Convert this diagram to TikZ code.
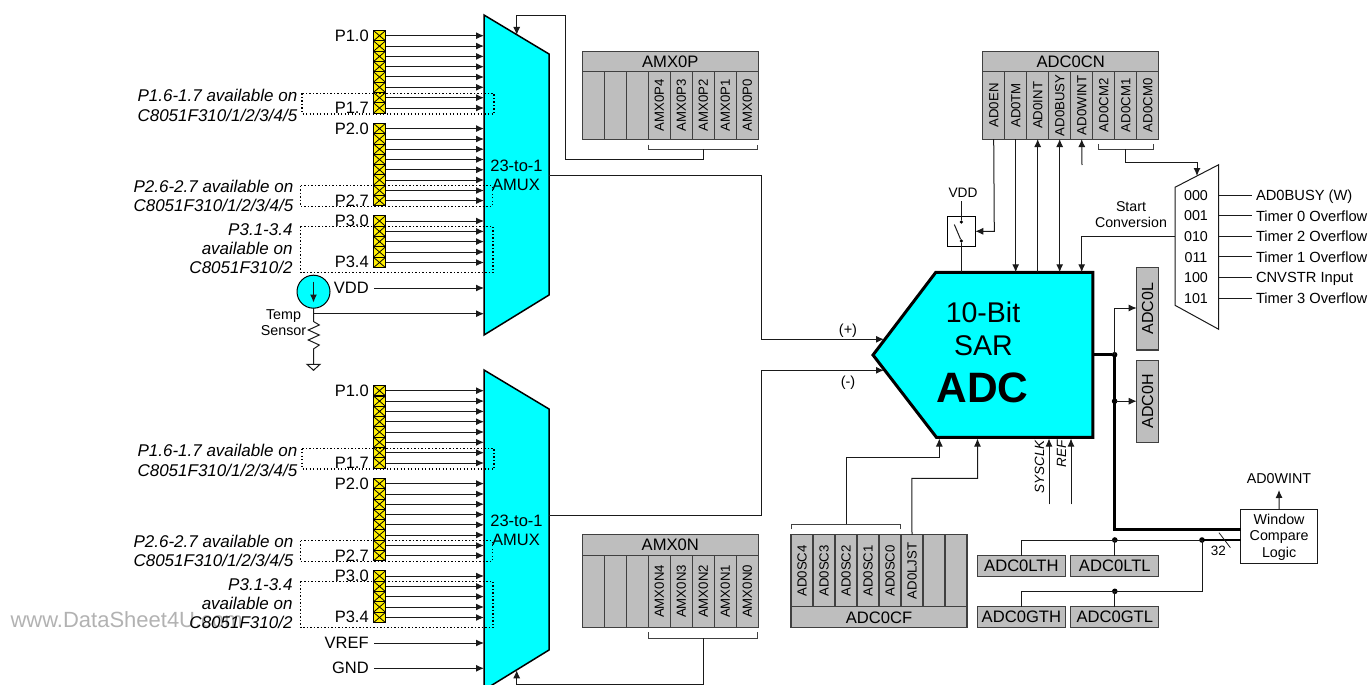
\documentclass[tikz,border=0pt]{standalone}
\usepackage{graphicx}
\usepackage{fontspec}
\setmainfont{Liberation Sans}
\usetikzlibrary{arrows.meta,calc}
\definecolor{regfill}{HTML}{BEBEBE}
\definecolor{regline}{HTML}{404040}
\definecolor{wline}{HTML}{1A1A1A}
\definecolor{pinyellow}{HTML}{FFEE00}
\definecolor{cyanfill}{HTML}{00FFFF}
\newcommand{\fs}[1]{\fontsize{#1}{#1}\selectfont}
\tikzset{
  wire/.style={draw=wline,line width=1pt},
  arr/.style={wire,-{Latex[length=8pt,width=7pt]}},
  darr/.style={wire,{Latex[length=8pt,width=7pt]}-{Latex[length=8pt,width=7pt]}},
  bus/.style={draw=black,line width=2.6pt},
  dotbox/.style={draw=black,line width=1.15pt,dash pattern=on 1.4pt off 2.1pt},
  lbl/.style={inner sep=0,outer sep=0,text depth=0pt,font=\fs{#1},text height=#1*0.72pt},
  lbl/.default=16.5,
  small/.style={lbl=14.3},
  ital/.style={lbl=17,font=\fs{17}\itshape,anchor=east},
  pinlbl/.style={lbl,anchor=east},
  pinbox/.style={draw=black,line width=.9pt,fill=pinyellow,inner sep=0,outer sep=0,
    minimum width=12pt,minimum height=10.3pt,
    path picture={\draw[line width=.8pt] (path picture bounding box.north west)--(path picture bounding box.south east)
      (path picture bounding box.north east)--(path picture bounding box.south west);}},
  regcell/.style={draw=regline,fill=regfill,line width=1.1pt,inner sep=0,outer sep=0,minimum width=22pt,font=\fs{13.2}},
  regtitle/.style={lbl=16.6,draw=regline,fill=regfill,line width=1.1pt,minimum width=176pt},
  dacbox/.style={lbl=16.6,draw=regline,fill=regfill,line width=1.1pt,minimum height=20.5pt,minimum width=88pt},
  dotn/.style={circle,fill=black,inner sep=0,outer sep=0,minimum size=5.6pt},
  muxshape/.style={draw=black,line width=1.5pt,fill=cyanfill,line join=miter}
}
\newcommand{\pinset}[4]{%
  \foreach \yy [count=\i] in {#4} {
    \node[pinbox] (#1-\i) at (379.5,#2+\yy) {};
    \draw[arr] (#1-\i.east) -- (#1-\i.east -| #3);
  }}
\begin{document}
\begin{tikzpicture}[x=1pt,y=-1pt]
\useasboundingbox (0,0) rectangle (1369,685);
% watermark
\node[lbl=22,text=black!30,anchor=west] (wm) at (10.5,620) {www.DataSheet4U.com};

% ---- multiplexers
\coordinate (ma1) at (484,15);  \coordinate (ma2) at (549,54);
\coordinate (ma3) at (549,295); \coordinate (ma4) at (484,335);
\coordinate (mb1) at (484,370); \coordinate (mb2) at (549,409);
\coordinate (mb3) at (549,650); \coordinate (mb4) at (484,690);
\draw[muxshape] (ma1)--(ma2)--(ma3)--(ma4)--cycle;
\draw[muxshape] (mb1)--(mb2)--(mb3)--(mb4)--cycle;
\node[lbl] (amuxa) at (516.5,166) {23-to-1};
\node[lbl] (amuxb) at (516,184.5) {AMUX};
\node[lbl] (amuxc) at (516.5,521) {23-to-1};
\node[lbl] (amuxd) at (516,539.5) {AMUX};

% ---- port pins, upper mux
\pinset{ua}{0}{ma1}{35.7,46.1,56.4,66.7,77,87.3,97.7,108}
\pinset{ub}{0}{ma1}{128.6,139,149.2,159.5,169.8,180,190.5,200.6}
\pinset{uc}{0}{ma1}{221,231.4,241.6,252,262.5}
% ---- port pins, lower mux
\pinset{la}{355}{mb1}{35.7,46.1,56.4,66.7,77,87.3,97.7,108}
\pinset{lb}{355}{mb1}{128.6,139,149.2,159.5,169.8,180,190.5,200.6}
\pinset{lc}{355}{mb1}{221,231.4,241.6,252,262.5}

% ---- pin labels
\foreach \dy/\tag in {0/u,355/l}{
  \node[pinlbl] at (368.7,35.7+\dy) {P1.0};
  \node[pinlbl] at (368.7,107.5+\dy) {P1.7};
  \node[pinlbl] at (368.7,128.6+\dy) {P2.0};
  \node[pinlbl] at (368.7,200.6+\dy) {P2.7};
  \node[pinlbl] at (368.7,220.8+\dy) {P3.0};
  \node[pinlbl] at (368.7,261.5+\dy) {P3.4};
  \node[ital] at (297.3,95.5+\dy) {P1.6-1.7 available on};
  \node[ital] at (297.3,115.5+\dy) {C8051F310/1/2/3/4/5};
  \node[ital] at (293.3,186.5+\dy) {P2.6-2.7 available on};
  \node[ital] at (293.3,205.5+\dy) {C8051F310/1/2/3/4/5};
  \node[ital] at (292.5,229.5+\dy) {P3.1-3.4};
  \node[ital] at (292.5,248.5+\dy) {available on};
  \node[ital] at (292.5,267.5+\dy) {C8051F310/2};
  \draw[dotbox] (302,93.5+\dy) rectangle (494,114+\dy);
  \draw[dotbox] (300.5,185.7+\dy) rectangle (492.5,206.3+\dy);
  \draw[dotbox] (300.5,226.3+\dy) rectangle (493,272.7+\dy);
}

% ---- VDD, temperature sensor
\node[pinlbl] (vddl) at (368.7,287.5) {VDD};
\coordinate (vdds) at (374,288);
\draw[arr] (vdds) -- (vdds -| ma1);
\node[circle,draw=black,line width=1pt,fill=cyanfill,inner sep=0,outer sep=0,minimum size=33pt] (temp) at (313.5,291.7) {};
\coordinate (tin1) at (313.5,281.5); \coordinate (tin2) at (313.5,302.5);
\draw[arr] (tin1) -- (tin2);
\coordinate (tj) at (313.5,313.7);
\coordinate (rs) at (313.5,321.5);
\draw[wire] (temp.south) -- (tj) -- (rs) -- ++(5.8,3.5) -- ++(-11,5) -- ++(11,5) -- ++(-11,5) -- ++(11,5) -- ++(-5.8,4) -- (313.5,364.3) coordinate (gnd);
\draw[arr] (tj) -- (tj -| ma1);
\draw[wire,fill=white] (307,364.3) -- (320,364.3) -- (313.5,370.3) -- cycle;
\node[small] (t1) at (283.5,314) {Temp};
\node[small] (t2) at (283.5,330) {Sensor};

% ---- VREF, GND
\node[pinlbl] (vrefl) at (368.7,642.5) {VREF};
\node[pinlbl] (gndl) at (368.7,667.5) {GND};
\coordinate (vrefs) at (374,643); \coordinate (gnds) at (374,668.3);
\draw[arr] (vrefs) -- (vrefs -| mb1);
\draw[arr] (gnds) -- (gnds -| mb1);

% ---- AMX0P
\node[regtitle,minimum height=20pt] (amxp) at (670.3,61.8) {AMX0P};
\foreach \t [count=\i] in {{},{},{},AMX0P4,AMX0P3,AMX0P2,AMX0P1,AMX0P0}{
  \node[regcell,minimum height=67.3pt] (ap\i) at (571.3+22*\i,105.4) {\rotatebox{90}{\t}};
}
\coordinate (bpa) at (648.3,144.7); \coordinate (bpb) at (757.9,144.7);
\coordinate (bpc) at (648.3,149.3); \coordinate (bpd) at (757.9,149.3);
\coordinate (bpe) at (703.3,149.3);
\draw[wire,draw=regline] (bpa)--(bpc)--(bpd)--(bpb);
\coordinate (ptop) at (516.7,35);
\draw[arr] (bpe) -- (703.3,159) -- (565,159) -- (565,15.3) -- (516.7,15.3) -- (ptop);

% ---- AMX0N
\node[regtitle,minimum height=21.4pt] (amxn) at (670.3,545) {AMX0N};
\foreach \t [count=\i] in {{},{},{},AMX0N4,AMX0N3,AMX0N2,AMX0N1,AMX0N0}{
  \node[regcell,minimum height=71.6pt] (an\i) at (571.3+22*\i,591.5) {\rotatebox{90}{\t}};
}
\coordinate (bna) at (648.3,632.3); \coordinate (bnb) at (757.9,632.3);
\coordinate (bnc) at (648.3,638); \coordinate (bnd) at (757.9,638);
\coordinate (bne) at (703.3,638);
\draw[wire,draw=regline] (bna)--(bnc)--(bnd)--(bnb);
\coordinate (nbot) at (516.7,670.3);
\draw[arr] (bne) -- (703.3,684) -- (516.7,684) -- (nbot);

% ---- ADC
\coordinate (ad1) at (935.8,272.3); \coordinate (ad2) at (1092.8,272.3);
\coordinate (ad3) at (1092.8,437.3); \coordinate (ad4) at (936.4,437.3);
\coordinate (ad5) at (873,355);
\draw[draw=black,line width=3pt,fill=cyanfill,line join=miter] (ad1)--(ad2)--(ad3)--(ad4)--(ad5)--cycle;
\node[lbl=28.5] (adct1) at (983,312) {10-Bit};
\node[lbl=28.5] (adct2) at (983.5,345) {SAR};
\node[lbl=42.5,font=\fs{42.5}\bfseries] (adct3) at (982.5,387) {ADC};

% ---- mux outputs into ADC
\coordinate (ina) at (549,175); \coordinate (inb) at (549,515);
\coordinate (inpc) at (884,339.3); \coordinate (inmc) at (884,370.3);
\draw[arr] (ina) -- (761,175) -- (761,339.3) -- (inpc);
\draw[arr] (inb) -- (761,515) -- (761,370.3) -- (inmc);
\node[lbl=14.5] (plus) at (848,329) {(+)};
\node[lbl=14.5] (minus) at (848,381) {(-)};

% ---- ADC0CN
\node[regtitle,minimum height=20pt] (cnt) at (1070.7,61.8) {ADC0CN};
\foreach \t [count=\i] in {AD0EN,AD0TM,AD0INT,AD0BUSY,AD0WINT,AD0CM2,AD0CM1,AD0CM0}{
  \node[regcell,minimum height=67.3pt] (cn\i) at (971.7+22*\i,105.4) {\rotatebox{90}{\t}};
}
\node[draw=black,line width=.9pt,inner sep=0,outer sep=0,minimum width=28pt,minimum height=30.7pt] (sw) at (961.3,231.3) {};
\node[lbl=13.7] (swv) at (963,192.3) {VDD};
\node[dotn,minimum size=3.6pt] (swa) at (961.3,222) {};
\node[dotn,minimum size=3.6pt] (swb) at (961.3,241) {};
\coordinate (swc) at (954.3,224.5);
\coordinate (swv0) at (961.3,201);
\draw[wire] (swv0) -- (swa);
\draw[wire] (swc) -- (swb);
\draw[wire] (swb) -- (swb |- ad1);
\draw[arr] (cn1.south) -- (994.3,231.3) -- (sw.east);
\draw[arr] (cn2.south) -- (cn2.south |- ad1);
\draw[arr] (cn3.south |- ad1) -- (cn3.south);
\draw[darr] (cn4.south) -- (cn4.south |- ad1);
\coordinate (wintb) at (1082,165);
\draw[arr] (wintb) -- (cn5.south);
\coordinate (bca) at (1098,144.3); \coordinate (bcb) at (1153.3,144.3);
\coordinate (bcc) at (1098,149.3); \coordinate (bcd) at (1153.3,149.3);
\coordinate (bce) at (1125.7,149.3);
\draw[wire,draw=regline] (bca)--(bcc)--(bcd)--(bcb);

% ---- start-conversion mux
\coordinate (sm1) at (1175,187.3); \coordinate (sm2) at (1218.7,164.7);
\coordinate (sm3) at (1218.7,329.3); \coordinate (sm4) at (1175,305.3);
\draw[wire,fill=white] (sm1)--(sm2)--(sm3)--(sm4)--cycle;
\coordinate (smtop) at (1197,176);
\draw[arr] (bce) -- (1125.7,162) -- (1197,162) -- (smtop);
\foreach \c/\t [count=\i] in {000/AD0BUSY (W),001/Timer 0 Overflow,010/Timer 2 Overflow,011/Timer 1 Overflow,100/CNVSTR Input,101/Timer 3 Overflow}{
  \pgfmathsetmacro{\yy}{195.3+20.55*(\i-1)}
  \node[small] (sc\i) at (1196,\yy) {\c};
  \node[lbl=14.7,anchor=west] (st\i) at (1256,\yy) {\t};
  \coordinate (sl\i) at (1218.7,\yy);
  \draw[wire] (sl\i) -- (st\i.west -| 1252,0);
}
\coordinate (sout) at (1175,236.4);
\draw[arr] (sout) -- (1081.7,236.4) -- (1081.7,272.3);
\node[lbl=14.2] (st) at (1131,206) {Start};
\node[lbl=14.2] (st2) at (1131,222) {Conversion};

% ---- data registers
\node[draw=regline,fill=regfill,line width=1.1pt,inner sep=0,outer sep=0,minimum width=22pt,minimum height=82.3pt,font=\fs{16}] (adl) at (1147.7,308.8) {\rotatebox{90}{ADC0L}};
\node[draw=regline,fill=regfill,line width=1.1pt,inner sep=0,outer sep=0,minimum width=22pt,minimum height=82.3pt,font=\fs{16}] (adh) at (1147.7,401.2) {\rotatebox{90}{ADC0H}};
\node[dotn] (j1) at (1114.6,354.7) {};
\node[dotn] (j2) at (1114.6,401.2) {};
\draw[draw=black,line width=2.6pt] (1092.8,354.7) -- (j1);
\draw[arr] (j1.center) -- (1114.6,308) -- (adl.west |- 0,308);
\draw[arr] (j2.center) -- (adh.west);

% ---- window compare
\node[draw=wline,line width=.9pt,fill=white,inner sep=0,outer sep=0,minimum width=76.8pt,minimum height=54pt] (win) at (1279.1,536) {};
\node[small] (w1) at (1279.1,519.3) {Window};
\node[small] (w2) at (1279.1,535.5) {Compare};
\node[small] (w3) at (1279.1,552) {Logic};
\node[small] (wint) at (1279,478) {AD0WINT};
\coordinate (wtop) at (1279,490);
\draw[arr] (win.north) -- (wtop);
\draw[bus] (j1.center) -- (1114.6,529.3) -- (win.west |- 0,529.3);

% ---- limit registers
\node[dacbox] (lth) at (1021.4,565.8) {ADC0LTH};
\node[dacbox] (ltl) at (1114.8,565.8) {ADC0LTL};
\node[dacbox] (gth) at (1021.4,617) {ADC0GTH};
\node[dacbox] (gtl) at (1114.8,617) {ADC0GTL};
\node[dotn] (j3) at (1114.8,540) {};
\node[dotn] (j4) at (1202,540) {};
\node[dotn] (j5) at (1114.8,591.3) {};
\draw[wire] (lth.north) -- (1021.4,540) -- (j4.center);
\draw[wire] (j3.center) -- (ltl.north);
\draw[bus] (j4.center) -- (win.west |- 0,540);
\draw[wire] (j4.center) -- (1202,591.3) -- (1021.4,591.3) -- (gth.north);
\draw[wire] (j5.center) -- (gtl.north);
\coordinate (sla) at (1219,532.7); \coordinate (slb) at (1230.4,547.7);
\draw[draw=wline,line width=.8pt] (sla) -- (slb);
\node[lbl=13.5] (b32) at (1218.3,550.3) {32};

% ---- ADC0CF
\foreach \t [count=\i] in {AD0SC4,AD0SC3,AD0SC2,AD0SC1,AD0SC0,AD0LJST,{},{}}{
  \node[regcell,minimum height=72.3pt] (cf\i) at (780+22*\i,570.8) {\rotatebox{90}{\t}};
}
\node[regtitle,minimum height=20.4pt] (cft) at (879,617.1) {ADC0CF};
\coordinate (bfa) at (791,529.3); \coordinate (bfb) at (900.7,529.3);
\coordinate (bfc) at (791,524.3); \coordinate (bfd) at (900.7,524.3);
\coordinate (bfe) at (846,524.3);
\draw[wire,draw=regline] (bfa)--(bfc)--(bfd)--(bfb);
\coordinate (osc) at (939.3,438.5); \coordinate (ljs) at (977.5,438.5);
\draw[arr] (bfe) -- (846,457.3) -- (939.3,457.3) -- (osc);
\draw[arr] (cf6.north) -- (911.8,478.3) -- (977.5,478.3) -- (ljs);
\coordinate (sysb) at (1049,504.3); \coordinate (refb) at (1071,504.3);
\draw[arr] (sysb) -- (1049,438.5);
\draw[arr] (refb) -- (1071,438.5);
\node[inner sep=0,outer sep=0,font=\fs{13.4}\itshape] (sysl) at (1039.5,467) {\rotatebox{90}{SYSCLK}};
\node[inner sep=0,outer sep=0,font=\fs{13.4}\itshape] (refl) at (1061.5,454) {\rotatebox{90}{REF}};
\end{tikzpicture}
\end{document}
